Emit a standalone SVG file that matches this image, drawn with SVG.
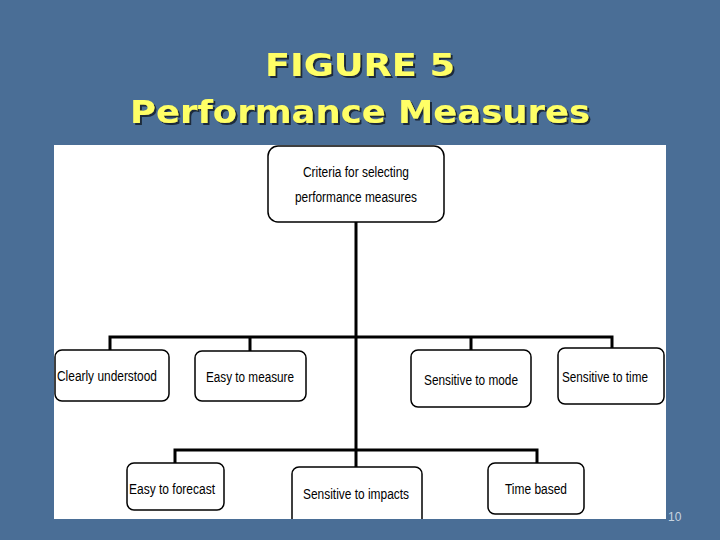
<svg xmlns="http://www.w3.org/2000/svg" width="720" height="540" viewBox="0 0 720 540">
<defs>
<filter id="sh" x="-5%" y="-20%" width="110%" height="140%"><feDropShadow dx="2" dy="2" stdDeviation="0.5" flood-color="#1a2a3a" flood-opacity="1"/></filter>
</defs>
<style>
.t{font-family:"DejaVu Sans",Verdana,sans-serif;font-size:32px;font-weight:bold;fill:#ffff66;text-anchor:middle;filter:url(#sh)}
.b{fill:#fff;stroke:#000;stroke-width:1.5}
.l{font-family:"Liberation Sans",Arial,sans-serif;font-size:14px;fill:#000;text-anchor:middle}
.c{stroke:#000;stroke-width:3;fill:none}
</style>
<rect width="720" height="540" fill="#4a6e96"/>
<text class="t" x="360" y="76" textLength="190" lengthAdjust="spacingAndGlyphs">FIGURE 5</text>
<text class="t" x="360" y="123" textLength="460" lengthAdjust="spacingAndGlyphs">Performance Measures</text>
<rect x="54" y="145" width="612" height="374" fill="#fff"/>
<text x="668" y="521" font-family="Liberation Sans,sans-serif" font-size="12" fill="#c8d4e0">10</text>
<g id="connectors">
<path class="c" d="M356 222V485M110 350V337H612V348M250 351V337M471 350V337M175 463V450H537V463"/>
</g>
<g id="n0"><rect class="b" x="268" y="146" width="176" height="76" rx="10"/><text class="l" x="356" y="177" textLength="106" lengthAdjust="spacingAndGlyphs">Criteria for selecting</text><text class="l" x="356" y="202" textLength="122" lengthAdjust="spacingAndGlyphs">performance measures</text></g>
<g id="n1"><rect class="b" x="55" y="350" width="114" height="51" rx="7"/><text class="l" x="107" y="381" textLength="100" lengthAdjust="spacingAndGlyphs">Clearly understood</text></g>
<g id="n2"><rect class="b" x="195" y="351" width="111" height="50" rx="7"/><text class="l" x="250" y="382" textLength="88" lengthAdjust="spacingAndGlyphs">Easy to measure</text></g>
<g id="n3"><rect class="b" x="411" y="350" width="120" height="57" rx="7"/><text class="l" x="471" y="385" textLength="94" lengthAdjust="spacingAndGlyphs">Sensitive to mode</text></g>
<g id="n4"><rect class="b" x="558" y="348" width="106" height="56" rx="7"/><text class="l" x="605" y="382" textLength="86" lengthAdjust="spacingAndGlyphs">Sensitive to time</text></g>
<g id="n5"><rect class="b" x="127" y="463" width="97" height="47" rx="7"/><text class="l" x="172" y="494" textLength="86" lengthAdjust="spacingAndGlyphs">Easy to forecast</text></g>
<g id="n6"><rect class="b" x="292" y="467" width="130" height="60" rx="7"/><text class="l" x="356" y="499" textLength="106" lengthAdjust="spacingAndGlyphs">Sensitive to impacts</text></g>
<g id="n7"><rect class="b" x="488" y="463" width="96" height="51" rx="7"/><text class="l" x="536" y="494" textLength="62" lengthAdjust="spacingAndGlyphs">Time based</text></g>
<rect x="54" y="519" width="612" height="21" fill="#4a6e96"/>
</svg>
